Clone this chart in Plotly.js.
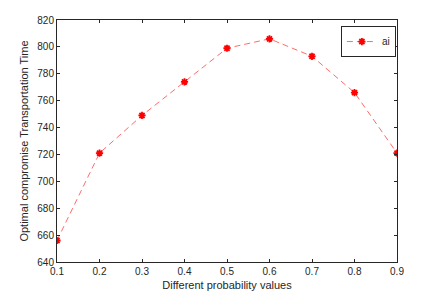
<!DOCTYPE html>
<html><head><meta charset="utf-8">
<script src="https://cdn.plot.ly/plotly-3.0.1.min.js"></script>
<style>html,body{margin:0;padding:0;background:#fff}#c{width:430px;height:305px}</style>
</head><body><div id="c"></div>
<script>
var probs = [0.1, 0.2, 0.3, 0.4, 0.5, 0.6, 0.7, 0.8, 0.9];
var times = [656, 721, 749, 774, 799, 806, 793, 766, 721];
var seriesName = 'ai';
var axisColor = '#262626';
var trace = {
  x: probs, y: times, name: seriesName, type: 'scatter', mode: 'lines+markers',
  line: {color: '#ff6b6b', width: 1, dash: '6px,4px'},
  marker: {symbol: 'asterisk-open', size: 6, color: '#ff0000', line: {color: '#ff0000', width: 1.8}}
};
var layout = {
  width: 430, height: 305,
  margin: {l: 57, r: 33, t: 20, b: 43},
  paper_bgcolor: '#fff', plot_bgcolor: '#fff',
  font: {family: 'Liberation Sans, Arial, sans-serif', size: 10, color: axisColor},
  showlegend: true,
  legend: {x: 0.835, xanchor: 'left', y: 0.975, yanchor: 'top', bordercolor: axisColor, borderwidth: 1, bgcolor: '#fff', font: {size: 10}, itemwidth: 30},
  xaxis: {
    range: [0.1, 0.9], tickvals: probs, ticktext: ['0.1','0.2','0.3','0.4','0.5','0.6','0.7','0.8','0.9'],
    ticks: 'inside', ticklen: 3, tickcolor: axisColor, showline: true, linecolor: axisColor, linewidth: 1,
    mirror: 'ticks', showgrid: false, zeroline: false,
    title: {text: 'Different probability values', font: {size: 11}, standoff: 5}
  },
  yaxis: {
    range: [640, 820], dtick: 20, tick0: 640,
    ticks: 'inside', ticklen: 3, tickcolor: axisColor, showline: true, linecolor: axisColor, linewidth: 1,
    mirror: 'ticks', showgrid: false, zeroline: false,
    title: {text: 'Optimal compromise Transportation Time', font: {size: 11}, standoff: 6}
  }
};
Plotly.newPlot('c', [trace], layout, {displayModeBar: false, staticPlot: true});
</script></body></html>
